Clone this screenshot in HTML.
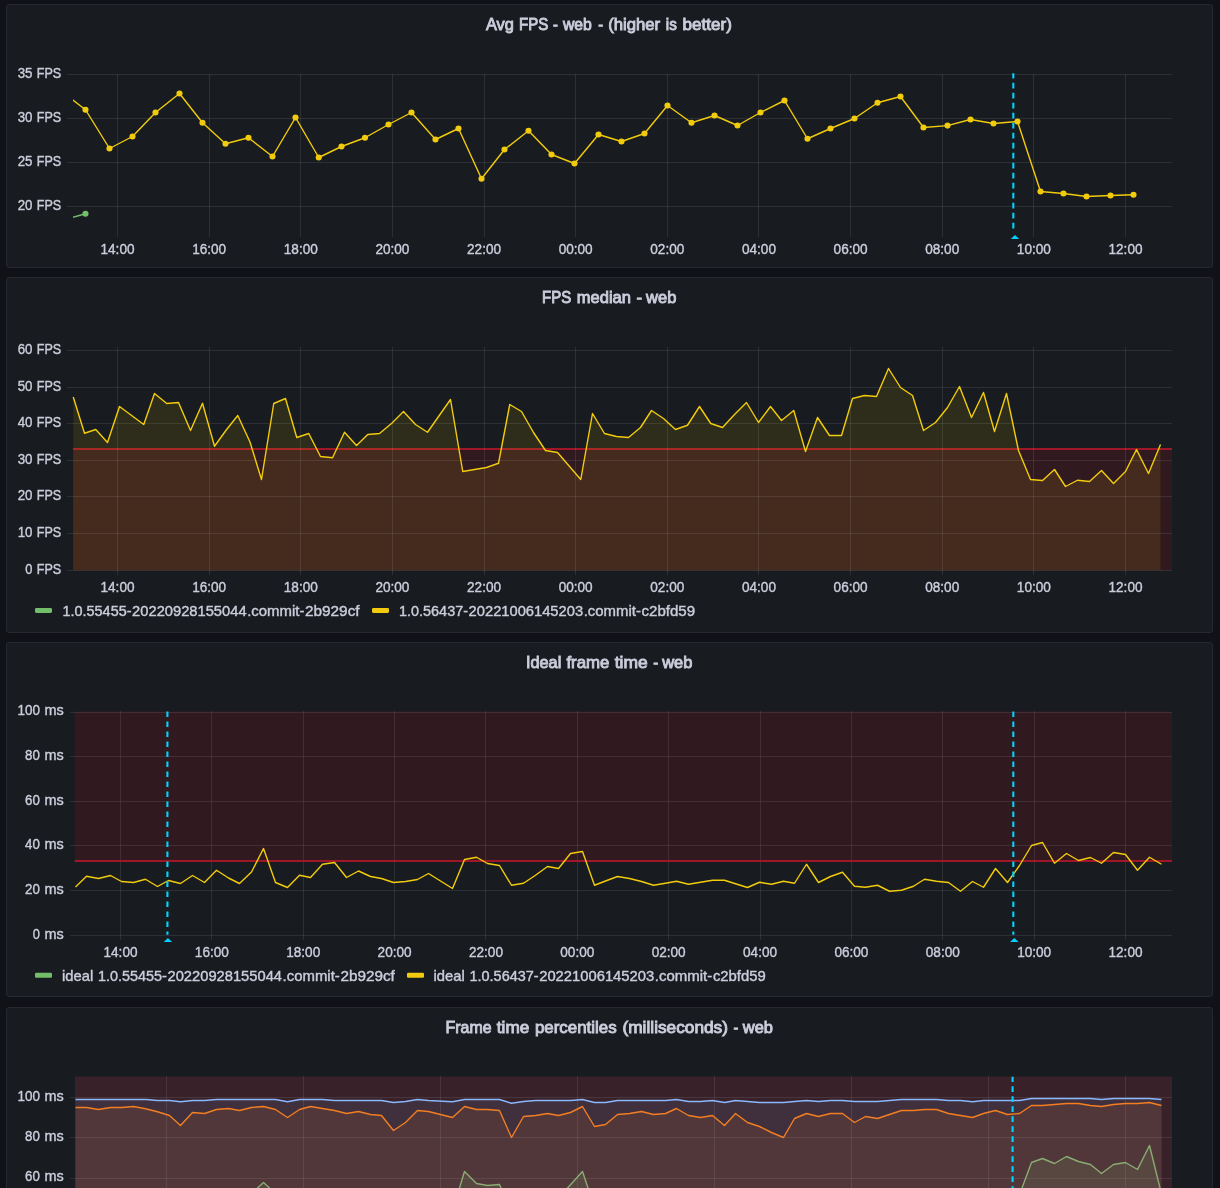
<!DOCTYPE html>
<html lang="en"><head><meta charset="utf-8"><title>Dashboard</title>
<style>
html,body{margin:0;padding:0;background:#111217;}
body{width:1220px;height:1188px;overflow:hidden;font-family:"Liberation Sans", sans-serif;}
svg{display:block;will-change:transform;transform:translateZ(0)}
text{font-family:"Liberation Sans", sans-serif;fill:#ccccdc;}
.ti{font-size:16.6px;stroke:#ccccdc;stroke-width:.9px;}
.ax{font-size:14.9px;stroke:#ccccdc;stroke-width:.4px}
.lg{font-size:14.3px;stroke:#ccccdc;stroke-width:.4px}
.g{stroke:#f0faff;stroke-opacity:.095;stroke-width:1;shape-rendering:crispEdges}
.ln{fill:none;stroke-width:1.4;stroke-linejoin:round}
</style></head><body>
<svg width="1220" height="1188" viewBox="0 0 1220 1188">
<rect width="1220" height="1188" fill="#111217"/>
<rect x="6.5" y="4.5" width="1206" height="263" rx="2.5" fill="#181b1f" stroke="#25282e"/>
<text y="29.6" class="ti"><tspan x="486" textLength="27.9" lengthAdjust="spacingAndGlyphs">Avg</tspan> <tspan x="519" textLength="29.3" lengthAdjust="spacingAndGlyphs">FPS</tspan> <tspan x="553.1" textLength="4.9" lengthAdjust="spacingAndGlyphs">-</tspan> <tspan x="562.9" textLength="29" lengthAdjust="spacingAndGlyphs">web</tspan> <tspan x="598.2" textLength="4.9" lengthAdjust="spacingAndGlyphs">-</tspan> <tspan x="608.2" textLength="52" lengthAdjust="spacingAndGlyphs">(higher</tspan> <tspan x="665.8" textLength="11" lengthAdjust="spacingAndGlyphs">is</tspan> <tspan x="682.6" textLength="49.4" lengthAdjust="spacingAndGlyphs">better)</tspan></text>
<line x1="67" x2="1172" y1="74.5" y2="74.5" class="g"/>
<line x1="67" x2="1172" y1="118.5" y2="118.5" class="g"/>
<line x1="67" x2="1172" y1="162.5" y2="162.5" class="g"/>
<line x1="67" x2="1172" y1="206.5" y2="206.5" class="g"/>
<line x1="117.5" x2="117.5" y1="74" y2="237" class="g"/>
<line x1="209.136" x2="209.136" y1="74" y2="237" class="g"/>
<line x1="300.772" x2="300.772" y1="74" y2="237" class="g"/>
<line x1="392.408" x2="392.408" y1="74" y2="237" class="g"/>
<line x1="484.044" x2="484.044" y1="74" y2="237" class="g"/>
<line x1="575.68" x2="575.68" y1="74" y2="237" class="g"/>
<line x1="667.316" x2="667.316" y1="74" y2="237" class="g"/>
<line x1="758.952" x2="758.952" y1="74" y2="237" class="g"/>
<line x1="850.588" x2="850.588" y1="74" y2="237" class="g"/>
<line x1="942.224" x2="942.224" y1="74" y2="237" class="g"/>
<line x1="1033.86" x2="1033.86" y1="74" y2="237" class="g"/>
<line x1="1125.5" x2="1125.5" y1="74" y2="237" class="g"/>
<text y="77.8" class="ax"><tspan x="17.7" textLength="14.8" lengthAdjust="spacingAndGlyphs">35</tspan> <tspan x="36.7" textLength="24.5" lengthAdjust="spacingAndGlyphs">FPS</tspan></text>
<text y="121.8" class="ax"><tspan x="17.7" textLength="14.8" lengthAdjust="spacingAndGlyphs">30</tspan> <tspan x="36.7" textLength="24.5" lengthAdjust="spacingAndGlyphs">FPS</tspan></text>
<text y="165.8" class="ax"><tspan x="17.7" textLength="14.8" lengthAdjust="spacingAndGlyphs">25</tspan> <tspan x="36.7" textLength="24.5" lengthAdjust="spacingAndGlyphs">FPS</tspan></text>
<text y="209.8" class="ax"><tspan x="17.7" textLength="14.8" lengthAdjust="spacingAndGlyphs">20</tspan> <tspan x="36.7" textLength="24.5" lengthAdjust="spacingAndGlyphs">FPS</tspan></text>
<text x="100.5" y="254" class="ax" textLength="34" lengthAdjust="spacingAndGlyphs">14:00</text>
<text x="192.136" y="254" class="ax" textLength="34" lengthAdjust="spacingAndGlyphs">16:00</text>
<text x="283.772" y="254" class="ax" textLength="34" lengthAdjust="spacingAndGlyphs">18:00</text>
<text x="375.408" y="254" class="ax" textLength="34" lengthAdjust="spacingAndGlyphs">20:00</text>
<text x="467.044" y="254" class="ax" textLength="34" lengthAdjust="spacingAndGlyphs">22:00</text>
<text x="558.68" y="254" class="ax" textLength="34" lengthAdjust="spacingAndGlyphs">00:00</text>
<text x="650.316" y="254" class="ax" textLength="34" lengthAdjust="spacingAndGlyphs">02:00</text>
<text x="741.952" y="254" class="ax" textLength="34" lengthAdjust="spacingAndGlyphs">04:00</text>
<text x="833.588" y="254" class="ax" textLength="34" lengthAdjust="spacingAndGlyphs">06:00</text>
<text x="925.224" y="254" class="ax" textLength="34" lengthAdjust="spacingAndGlyphs">08:00</text>
<text x="1016.86" y="254" class="ax" textLength="34" lengthAdjust="spacingAndGlyphs">10:00</text>
<text x="1108.5" y="254" class="ax" textLength="34" lengthAdjust="spacingAndGlyphs">12:00</text>
<clipPath id="c1"><rect x="73" y="70" width="1098" height="166"/></clipPath>
<g clip-path="url(#c1)">
<polyline class="ln" stroke="#73BF69" points="62.2,220.4 85.5,213.75"/>
<circle cx="85.5" cy="213.75" r="3.05" fill="#73BF69"/>
<polyline class="ln" stroke="#F2CC0C" points="62.2,92 85.5,109.75 109.5,148.5 132.5,136.5 155.5,112.5 179.5,93.5 202.5,122.75 225.5,143.75 248.5,137.75 272.5,156.5 295.5,117.5 318.75,157.5 341.5,146.5 365,137.75 388.5,124.5 411.5,112.5 435.5,139.5 458.5,128.5 481.5,178.75 504.5,149.5 528.5,130.75 551.5,154.5 574.5,163.5 598.5,134.5 621.5,141.5 644.5,133.5 667.5,105.5 691.5,122.75 714.5,115.5 737.5,125.5 760.5,112.5 784.5,100.5 807.5,138.75 830.5,128.5 854.5,118.5 877.5,102.75 900.5,96.5 923.5,127.5 947.5,125.6 970.5,119.5 993.5,123.5 1017.5,121.5 1040.5,191.5 1063.5,193.5 1086.5,196.5 1110.5,195.5 1133.5,194.75"/>
<circle cx="85.5" cy="109.75" r="3.05" fill="#F2CC0C"/>
<circle cx="109.5" cy="148.5" r="3.05" fill="#F2CC0C"/>
<circle cx="132.5" cy="136.5" r="3.05" fill="#F2CC0C"/>
<circle cx="155.5" cy="112.5" r="3.05" fill="#F2CC0C"/>
<circle cx="179.5" cy="93.5" r="3.05" fill="#F2CC0C"/>
<circle cx="202.5" cy="122.75" r="3.05" fill="#F2CC0C"/>
<circle cx="225.5" cy="143.75" r="3.05" fill="#F2CC0C"/>
<circle cx="248.5" cy="137.75" r="3.05" fill="#F2CC0C"/>
<circle cx="272.5" cy="156.5" r="3.05" fill="#F2CC0C"/>
<circle cx="295.5" cy="117.5" r="3.05" fill="#F2CC0C"/>
<circle cx="318.75" cy="157.5" r="3.05" fill="#F2CC0C"/>
<circle cx="341.5" cy="146.5" r="3.05" fill="#F2CC0C"/>
<circle cx="365" cy="137.75" r="3.05" fill="#F2CC0C"/>
<circle cx="388.5" cy="124.5" r="3.05" fill="#F2CC0C"/>
<circle cx="411.5" cy="112.5" r="3.05" fill="#F2CC0C"/>
<circle cx="435.5" cy="139.5" r="3.05" fill="#F2CC0C"/>
<circle cx="458.5" cy="128.5" r="3.05" fill="#F2CC0C"/>
<circle cx="481.5" cy="178.75" r="3.05" fill="#F2CC0C"/>
<circle cx="504.5" cy="149.5" r="3.05" fill="#F2CC0C"/>
<circle cx="528.5" cy="130.75" r="3.05" fill="#F2CC0C"/>
<circle cx="551.5" cy="154.5" r="3.05" fill="#F2CC0C"/>
<circle cx="574.5" cy="163.5" r="3.05" fill="#F2CC0C"/>
<circle cx="598.5" cy="134.5" r="3.05" fill="#F2CC0C"/>
<circle cx="621.5" cy="141.5" r="3.05" fill="#F2CC0C"/>
<circle cx="644.5" cy="133.5" r="3.05" fill="#F2CC0C"/>
<circle cx="667.5" cy="105.5" r="3.05" fill="#F2CC0C"/>
<circle cx="691.5" cy="122.75" r="3.05" fill="#F2CC0C"/>
<circle cx="714.5" cy="115.5" r="3.05" fill="#F2CC0C"/>
<circle cx="737.5" cy="125.5" r="3.05" fill="#F2CC0C"/>
<circle cx="760.5" cy="112.5" r="3.05" fill="#F2CC0C"/>
<circle cx="784.5" cy="100.5" r="3.05" fill="#F2CC0C"/>
<circle cx="807.5" cy="138.75" r="3.05" fill="#F2CC0C"/>
<circle cx="830.5" cy="128.5" r="3.05" fill="#F2CC0C"/>
<circle cx="854.5" cy="118.5" r="3.05" fill="#F2CC0C"/>
<circle cx="877.5" cy="102.75" r="3.05" fill="#F2CC0C"/>
<circle cx="900.5" cy="96.5" r="3.05" fill="#F2CC0C"/>
<circle cx="923.5" cy="127.5" r="3.05" fill="#F2CC0C"/>
<circle cx="947.5" cy="125.6" r="3.05" fill="#F2CC0C"/>
<circle cx="970.5" cy="119.5" r="3.05" fill="#F2CC0C"/>
<circle cx="993.5" cy="123.5" r="3.05" fill="#F2CC0C"/>
<circle cx="1017.5" cy="121.5" r="3.05" fill="#F2CC0C"/>
<circle cx="1040.5" cy="191.5" r="3.05" fill="#F2CC0C"/>
<circle cx="1063.5" cy="193.5" r="3.05" fill="#F2CC0C"/>
<circle cx="1086.5" cy="196.5" r="3.05" fill="#F2CC0C"/>
<circle cx="1110.5" cy="195.5" r="3.05" fill="#F2CC0C"/>
<circle cx="1133.5" cy="194.75" r="3.05" fill="#F2CC0C"/>
</g>
<line x1="1013.3" x2="1013.3" y1="73.3" y2="232.5" stroke="#00d3ff" stroke-width="2.1" stroke-dasharray="5.6 4.4" stroke-dashoffset="0.5"/>
<path d="M1010.8 239.1L1015 234.9L1019.2 239.1Z" fill="#00d3ff"/>
<rect x="6.5" y="277.5" width="1206" height="355" rx="2.5" fill="#181b1f" stroke="#25282e"/>
<text y="303" class="ti"><tspan x="542.1" textLength="29.2" lengthAdjust="spacingAndGlyphs">FPS</tspan> <tspan x="576.8" textLength="54.1" lengthAdjust="spacingAndGlyphs">median</tspan> <tspan x="636.6" textLength="5.6" lengthAdjust="spacingAndGlyphs">-</tspan> <tspan x="646.1" textLength="30.3" lengthAdjust="spacingAndGlyphs">web</tspan></text>
<rect x="73" y="449" width="1099" height="121.3" fill="#C4162A" fill-opacity=".15"/>
<line x1="73" x2="1172" y1="449" y2="449" stroke="#C4162A" stroke-width="2" stroke-opacity=".77"/>
<polygon points="73.25,397 84.5,433.25 95.75,429.5 107.5,442.5 119.5,406.5 143.75,424.5 154.5,393.5 166.75,403.5 178.5,402.5 190.5,430.5 202.5,403.25 214.5,446.25 226.25,430 237.75,415.5 250,442 261.5,479.5 273.75,403.5 285.5,398.5 296.75,437.5 308.75,433.5 320.5,456.5 332.5,457.75 344.5,432.25 356.5,445.5 367.75,434.5 379.5,433.5 391.75,423.25 403.5,411.5 415.5,424.5 427.5,432.25 450.5,399.5 462.75,471.5 486.5,467.5 498.5,463.25 509.75,404.5 521.5,411.5 533.5,432.5 545.5,450.5 557.5,452.5 580.75,479.5 592.5,413.5 604.5,433.5 616.5,436.5 628.5,437.5 640.5,427.5 651.5,410.5 663.5,418.5 675.5,429.5 687.5,425.25 699.5,406.5 710.75,423.5 722.5,427.5 734.5,414.5 746.5,402.5 758.5,422.5 770.5,406.5 781.5,420.5 793.75,410.5 805.5,451.5 817.5,417.5 829.5,435.5 841.5,435.5 852.5,398.5 864.5,395.5 876.5,396.5 888.5,368.5 900.5,387.5 912.5,395.5 923.5,430.5 935.5,422.5 947.5,407.5 959.5,386.5 971.5,417.5 983.5,392.5 994.5,431.5 1006.5,393.5 1018.5,450.5 1030.5,479.5 1042.5,480.5 1054.5,469.5 1065.5,486.5 1077.5,480.25 1089.5,481.5 1101.5,470.5 1113.5,483.5 1125.5,471.5 1136.5,449.5 1148.5,473.5 1160.5,444.5 1160.5,570.3 73.25,570.3" fill="#F2CC0C" fill-opacity=".1"/>
<line x1="67" x2="1172" y1="350.4" y2="350.4" class="g"/>
<line x1="67" x2="1172" y1="387.4" y2="387.4" class="g"/>
<line x1="67" x2="1172" y1="423.4" y2="423.4" class="g"/>
<line x1="67" x2="1172" y1="460.4" y2="460.4" class="g"/>
<line x1="67" x2="1172" y1="496.3" y2="496.3" class="g"/>
<line x1="67" x2="1172" y1="533.4" y2="533.4" class="g"/>
<line x1="67" x2="1172" y1="570.3" y2="570.3" class="g"/>
<line x1="117.5" x2="117.5" y1="346.7" y2="574.8" class="g"/>
<line x1="209.136" x2="209.136" y1="346.7" y2="574.8" class="g"/>
<line x1="300.772" x2="300.772" y1="346.7" y2="574.8" class="g"/>
<line x1="392.408" x2="392.408" y1="346.7" y2="574.8" class="g"/>
<line x1="484.044" x2="484.044" y1="346.7" y2="574.8" class="g"/>
<line x1="575.68" x2="575.68" y1="346.7" y2="574.8" class="g"/>
<line x1="667.316" x2="667.316" y1="346.7" y2="574.8" class="g"/>
<line x1="758.952" x2="758.952" y1="346.7" y2="574.8" class="g"/>
<line x1="850.588" x2="850.588" y1="346.7" y2="574.8" class="g"/>
<line x1="942.224" x2="942.224" y1="346.7" y2="574.8" class="g"/>
<line x1="1033.86" x2="1033.86" y1="346.7" y2="574.8" class="g"/>
<line x1="1125.5" x2="1125.5" y1="346.7" y2="574.8" class="g"/>
<polyline class="ln" stroke="#F2CC0C" points="73.25,397 84.5,433.25 95.75,429.5 107.5,442.5 119.5,406.5 143.75,424.5 154.5,393.5 166.75,403.5 178.5,402.5 190.5,430.5 202.5,403.25 214.5,446.25 226.25,430 237.75,415.5 250,442 261.5,479.5 273.75,403.5 285.5,398.5 296.75,437.5 308.75,433.5 320.5,456.5 332.5,457.75 344.5,432.25 356.5,445.5 367.75,434.5 379.5,433.5 391.75,423.25 403.5,411.5 415.5,424.5 427.5,432.25 450.5,399.5 462.75,471.5 486.5,467.5 498.5,463.25 509.75,404.5 521.5,411.5 533.5,432.5 545.5,450.5 557.5,452.5 580.75,479.5 592.5,413.5 604.5,433.5 616.5,436.5 628.5,437.5 640.5,427.5 651.5,410.5 663.5,418.5 675.5,429.5 687.5,425.25 699.5,406.5 710.75,423.5 722.5,427.5 734.5,414.5 746.5,402.5 758.5,422.5 770.5,406.5 781.5,420.5 793.75,410.5 805.5,451.5 817.5,417.5 829.5,435.5 841.5,435.5 852.5,398.5 864.5,395.5 876.5,396.5 888.5,368.5 900.5,387.5 912.5,395.5 923.5,430.5 935.5,422.5 947.5,407.5 959.5,386.5 971.5,417.5 983.5,392.5 994.5,431.5 1006.5,393.5 1018.5,450.5 1030.5,479.5 1042.5,480.5 1054.5,469.5 1065.5,486.5 1077.5,480.25 1089.5,481.5 1101.5,470.5 1113.5,483.5 1125.5,471.5 1136.5,449.5 1148.5,473.5 1160.5,444.5"/>
<text y="353.7" class="ax"><tspan x="17.7" textLength="14.8" lengthAdjust="spacingAndGlyphs">60</tspan> <tspan x="36.7" textLength="24.5" lengthAdjust="spacingAndGlyphs">FPS</tspan></text>
<text y="390.7" class="ax"><tspan x="17.7" textLength="14.8" lengthAdjust="spacingAndGlyphs">50</tspan> <tspan x="36.7" textLength="24.5" lengthAdjust="spacingAndGlyphs">FPS</tspan></text>
<text y="426.7" class="ax"><tspan x="17.7" textLength="14.8" lengthAdjust="spacingAndGlyphs">40</tspan> <tspan x="36.7" textLength="24.5" lengthAdjust="spacingAndGlyphs">FPS</tspan></text>
<text y="463.7" class="ax"><tspan x="17.7" textLength="14.8" lengthAdjust="spacingAndGlyphs">30</tspan> <tspan x="36.7" textLength="24.5" lengthAdjust="spacingAndGlyphs">FPS</tspan></text>
<text y="499.6" class="ax"><tspan x="17.7" textLength="14.8" lengthAdjust="spacingAndGlyphs">20</tspan> <tspan x="36.7" textLength="24.5" lengthAdjust="spacingAndGlyphs">FPS</tspan></text>
<text y="536.7" class="ax"><tspan x="17.7" textLength="14.8" lengthAdjust="spacingAndGlyphs">10</tspan> <tspan x="36.7" textLength="24.5" lengthAdjust="spacingAndGlyphs">FPS</tspan></text>
<text y="573.6" class="ax"><tspan x="25.35" textLength="7.15" lengthAdjust="spacingAndGlyphs">0</tspan> <tspan x="36.7" textLength="24.5" lengthAdjust="spacingAndGlyphs">FPS</tspan></text>
<text x="100.5" y="591.6" class="ax" textLength="34" lengthAdjust="spacingAndGlyphs">14:00</text>
<text x="192.136" y="591.6" class="ax" textLength="34" lengthAdjust="spacingAndGlyphs">16:00</text>
<text x="283.772" y="591.6" class="ax" textLength="34" lengthAdjust="spacingAndGlyphs">18:00</text>
<text x="375.408" y="591.6" class="ax" textLength="34" lengthAdjust="spacingAndGlyphs">20:00</text>
<text x="467.044" y="591.6" class="ax" textLength="34" lengthAdjust="spacingAndGlyphs">22:00</text>
<text x="558.68" y="591.6" class="ax" textLength="34" lengthAdjust="spacingAndGlyphs">00:00</text>
<text x="650.316" y="591.6" class="ax" textLength="34" lengthAdjust="spacingAndGlyphs">02:00</text>
<text x="741.952" y="591.6" class="ax" textLength="34" lengthAdjust="spacingAndGlyphs">04:00</text>
<text x="833.588" y="591.6" class="ax" textLength="34" lengthAdjust="spacingAndGlyphs">06:00</text>
<text x="925.224" y="591.6" class="ax" textLength="34" lengthAdjust="spacingAndGlyphs">08:00</text>
<text x="1016.86" y="591.6" class="ax" textLength="34" lengthAdjust="spacingAndGlyphs">10:00</text>
<text x="1108.5" y="591.6" class="ax" textLength="34" lengthAdjust="spacingAndGlyphs">12:00</text>
<rect x="35" y="607.9" width="17" height="5" rx="1.3" fill="#73BF69"/>
<text y="616.2" class="lg"><tspan x="62.5" textLength="69" lengthAdjust="spacingAndGlyphs">1.0.55455-</tspan><tspan x="132.1" textLength="114.5" lengthAdjust="spacingAndGlyphs">20220928155044</tspan><tspan x="247.2" textLength="57.2" lengthAdjust="spacingAndGlyphs">.commit-</tspan><tspan x="305" textLength="54.6" lengthAdjust="spacingAndGlyphs">2b929cf</tspan></text>
<rect x="372" y="607.9" width="17" height="5" rx="1.3" fill="#F2CC0C"/>
<text y="616.2" class="lg"><tspan x="399" textLength="69" lengthAdjust="spacingAndGlyphs">1.0.56437-</tspan><tspan x="468.6" textLength="114.5" lengthAdjust="spacingAndGlyphs">20221006145203</tspan><tspan x="583.7" textLength="57.2" lengthAdjust="spacingAndGlyphs">.commit-</tspan><tspan x="641.5" textLength="53.6" lengthAdjust="spacingAndGlyphs">c2bfd59</tspan></text>
<rect x="6.5" y="642.5" width="1206" height="354" rx="2.5" fill="#181b1f" stroke="#25282e"/>
<text y="668" class="ti"><tspan x="525.9" textLength="35.4" lengthAdjust="spacingAndGlyphs">Ideal</tspan> <tspan x="566.4" textLength="43.1" lengthAdjust="spacingAndGlyphs">frame</tspan> <tspan x="614.7" textLength="33" lengthAdjust="spacingAndGlyphs">time</tspan> <tspan x="653.3" textLength="5" lengthAdjust="spacingAndGlyphs">-</tspan> <tspan x="662.2" textLength="30.3" lengthAdjust="spacingAndGlyphs">web</tspan></text>
<rect x="74.75" y="711.4" width="1097.25" height="149.6" fill="#C4162A" fill-opacity=".15"/>
<line x1="70.0" x2="1172" y1="712.1" y2="712.1" class="g"/>
<line x1="70.0" x2="1172" y1="756.6" y2="756.6" class="g"/>
<line x1="70.0" x2="1172" y1="801.3" y2="801.3" class="g"/>
<line x1="70.0" x2="1172" y1="845.3" y2="845.3" class="g"/>
<line x1="70.0" x2="1172" y1="890.45" y2="890.45" class="g"/>
<line x1="70.0" x2="1172" y1="935.2" y2="935.2" class="g"/>
<line x1="120.5" x2="120.5" y1="711.4" y2="939.7" class="g"/>
<line x1="211.864" x2="211.864" y1="711.4" y2="939.7" class="g"/>
<line x1="303.228" x2="303.228" y1="711.4" y2="939.7" class="g"/>
<line x1="394.592" x2="394.592" y1="711.4" y2="939.7" class="g"/>
<line x1="485.956" x2="485.956" y1="711.4" y2="939.7" class="g"/>
<line x1="577.32" x2="577.32" y1="711.4" y2="939.7" class="g"/>
<line x1="668.684" x2="668.684" y1="711.4" y2="939.7" class="g"/>
<line x1="760.048" x2="760.048" y1="711.4" y2="939.7" class="g"/>
<line x1="851.412" x2="851.412" y1="711.4" y2="939.7" class="g"/>
<line x1="942.776" x2="942.776" y1="711.4" y2="939.7" class="g"/>
<line x1="1034.14" x2="1034.14" y1="711.4" y2="939.7" class="g"/>
<line x1="1125.5" x2="1125.5" y1="711.4" y2="939.7" class="g"/>
<line x1="74.75" x2="1172" y1="861" y2="861" stroke="#C4162A" stroke-width="2" stroke-opacity=".77"/>
<polyline class="ln" stroke="#F2CC0C" points="75.5,887 86.5,876.25 98.5,878.5 110.5,875.5 121.5,881.5 133.5,882.5 145.5,879.25 157.5,886.5 168.5,880.5 180.5,883.5 192.5,875.5 204.5,882.5 216.5,870.25 228.5,878 239.5,883.5 251.5,872 263.5,848.5 275.5,882.5 287.5,887.5 299.5,875.25 310.5,877.5 322.5,864.25 334.5,862.5 346.5,877.5 358.5,871 370.5,876.5 381.5,878.5 393.5,882.5 405.5,881.5 417.5,879.5 428.5,873.5 452.5,888.5 464.5,859.5 476.5,857.25 487.5,863.5 499.5,865.5 511.5,885.25 523.5,883.25 535.5,875.25 547.5,866.5 558.5,868.5 570.5,853.5 582.5,851.5 594.5,885.25 605.5,881 617.5,876.5 629.5,878.5 641.5,881.5 653.5,885.25 665.5,883.25 676.5,881.25 688.5,884.25 700.5,882.25 712.5,880.25 724.5,880.25 735.5,883.75 747.5,887.5 759.5,882.25 771.5,884.25 783.5,881.25 794.5,883.25 806.5,864.25 818.5,882.5 830.5,876.5 842.5,872.25 854.5,886.25 865.5,887.25 877.5,885.25 889.5,891.25 901.5,890.25 913.5,886.25 924.5,879.25 936.5,881.25 948.5,882.5 960.5,891.25 972.5,881.5 983.5,887.25 995.5,868.5 1007.5,882.5 1019.5,865.5 1031.5,845.5 1042.5,842.5 1054.5,863.25 1066.5,853.5 1078.5,860.5 1090.5,857.5 1101.5,863.25 1113.5,852.5 1125.5,854.5 1137.5,870.25 1149.5,857.25 1161.5,864.25"/>
<line x1="167.4" x2="167.4" y1="711.4" y2="934.7" stroke="#00d3ff" stroke-width="2.1" stroke-dasharray="5.6 4.4" stroke-dashoffset="0"/>
<path d="M163.7 942.1L167.9 937.9L172.1 942.1Z" fill="#00d3ff"/>
<line x1="1013.3" x2="1013.3" y1="711.4" y2="934.7" stroke="#00d3ff" stroke-width="2.1" stroke-dasharray="5.6 4.4" stroke-dashoffset="0"/>
<path d="M1010.1 942.1L1014.3 937.9L1018.5 942.1Z" fill="#00d3ff"/>
<text y="715.4" class="ax"><tspan x="17.45" textLength="22.45" lengthAdjust="spacingAndGlyphs">100</tspan> <tspan x="44.4" textLength="19.3" lengthAdjust="spacingAndGlyphs">ms</tspan></text>
<text y="759.9" class="ax"><tspan x="25.1" textLength="14.8" lengthAdjust="spacingAndGlyphs">80</tspan> <tspan x="44.4" textLength="19.3" lengthAdjust="spacingAndGlyphs">ms</tspan></text>
<text y="804.6" class="ax"><tspan x="25.1" textLength="14.8" lengthAdjust="spacingAndGlyphs">60</tspan> <tspan x="44.4" textLength="19.3" lengthAdjust="spacingAndGlyphs">ms</tspan></text>
<text y="848.6" class="ax"><tspan x="25.1" textLength="14.8" lengthAdjust="spacingAndGlyphs">40</tspan> <tspan x="44.4" textLength="19.3" lengthAdjust="spacingAndGlyphs">ms</tspan></text>
<text y="893.75" class="ax"><tspan x="25.1" textLength="14.8" lengthAdjust="spacingAndGlyphs">20</tspan> <tspan x="44.4" textLength="19.3" lengthAdjust="spacingAndGlyphs">ms</tspan></text>
<text y="938.5" class="ax"><tspan x="32.75" textLength="7.15" lengthAdjust="spacingAndGlyphs">0</tspan> <tspan x="44.4" textLength="19.3" lengthAdjust="spacingAndGlyphs">ms</tspan></text>
<text x="103.5" y="956.6" class="ax" textLength="34" lengthAdjust="spacingAndGlyphs">14:00</text>
<text x="194.864" y="956.6" class="ax" textLength="34" lengthAdjust="spacingAndGlyphs">16:00</text>
<text x="286.228" y="956.6" class="ax" textLength="34" lengthAdjust="spacingAndGlyphs">18:00</text>
<text x="377.592" y="956.6" class="ax" textLength="34" lengthAdjust="spacingAndGlyphs">20:00</text>
<text x="468.956" y="956.6" class="ax" textLength="34" lengthAdjust="spacingAndGlyphs">22:00</text>
<text x="560.32" y="956.6" class="ax" textLength="34" lengthAdjust="spacingAndGlyphs">00:00</text>
<text x="651.684" y="956.6" class="ax" textLength="34" lengthAdjust="spacingAndGlyphs">02:00</text>
<text x="743.048" y="956.6" class="ax" textLength="34" lengthAdjust="spacingAndGlyphs">04:00</text>
<text x="834.412" y="956.6" class="ax" textLength="34" lengthAdjust="spacingAndGlyphs">06:00</text>
<text x="925.776" y="956.6" class="ax" textLength="34" lengthAdjust="spacingAndGlyphs">08:00</text>
<text x="1017.14" y="956.6" class="ax" textLength="34" lengthAdjust="spacingAndGlyphs">10:00</text>
<text x="1108.5" y="956.6" class="ax" textLength="34" lengthAdjust="spacingAndGlyphs">12:00</text>
<rect x="35" y="972.7" width="17" height="5" rx="1.3" fill="#73BF69"/>
<text y="981" class="lg"><tspan x="62" textLength="35.3" lengthAdjust="spacingAndGlyphs">ideal </tspan><tspan x="97.9" textLength="69" lengthAdjust="spacingAndGlyphs">1.0.55455-</tspan><tspan x="167.5" textLength="114.5" lengthAdjust="spacingAndGlyphs">20220928155044</tspan><tspan x="282.6" textLength="57.2" lengthAdjust="spacingAndGlyphs">.commit-</tspan><tspan x="340.4" textLength="54.4" lengthAdjust="spacingAndGlyphs">2b929cf</tspan></text>
<rect x="407" y="972.7" width="17" height="5" rx="1.3" fill="#F2CC0C"/>
<text y="981" class="lg"><tspan x="433.6" textLength="35.3" lengthAdjust="spacingAndGlyphs">ideal </tspan><tspan x="469.5" textLength="69.1" lengthAdjust="spacingAndGlyphs">1.0.56437-</tspan><tspan x="539.2" textLength="115" lengthAdjust="spacingAndGlyphs">20221006145203</tspan><tspan x="654.8" textLength="57.5" lengthAdjust="spacingAndGlyphs">.commit-</tspan><tspan x="712.9" textLength="52.9" lengthAdjust="spacingAndGlyphs">c2bfd59</tspan></text>
<rect x="6.5" y="1007.5" width="1206" height="192" rx="2.5" fill="#181b1f" stroke="#25282e"/>
<text y="1033" class="ti"><tspan x="445.6" textLength="46" lengthAdjust="spacingAndGlyphs">Frame</tspan> <tspan x="496.8" textLength="32.5" lengthAdjust="spacingAndGlyphs">time</tspan> <tspan x="534.9" textLength="81.8" lengthAdjust="spacingAndGlyphs">percentiles</tspan> <tspan x="622.5" textLength="105.5" lengthAdjust="spacingAndGlyphs">(milliseconds)</tspan> <tspan x="733.6" textLength="4.8" lengthAdjust="spacingAndGlyphs">-</tspan> <tspan x="742.8" textLength="30.2" lengthAdjust="spacingAndGlyphs">web</tspan></text>
<clipPath id="c4"><rect x="75" y="1076.3" width="1097" height="120"/></clipPath>
<g clip-path="url(#c4)">
<rect x="75" y="1076.3" width="1097" height="120" fill="#F2495C" fill-opacity=".15"/>
</g>
<line x1="70.3" x2="1172" y1="1097.5" y2="1097.5" class="g"/>
<line x1="70.3" x2="1172" y1="1137.5" y2="1137.5" class="g"/>
<line x1="70.3" x2="1172" y1="1178.4" y2="1178.4" class="g"/>
<line x1="166.5" x2="166.5" y1="1076.3" y2="1188" class="g"/>
<line x1="303.5" x2="303.5" y1="1076.3" y2="1188" class="g"/>
<line x1="440.5" x2="440.5" y1="1076.3" y2="1188" class="g"/>
<line x1="577.5" x2="577.5" y1="1076.3" y2="1188" class="g"/>
<line x1="714.5" x2="714.5" y1="1076.3" y2="1188" class="g"/>
<line x1="851.5" x2="851.5" y1="1076.3" y2="1188" class="g"/>
<line x1="988.5" x2="988.5" y1="1076.3" y2="1188" class="g"/>
<line x1="1125.5" x2="1125.5" y1="1076.3" y2="1188" class="g"/>
<g clip-path="url(#c4)">
<polygon points="75.5,1215 239.5,1215 251.5,1193.5 263.5,1182.5 275.5,1193.5 287.5,1215 440.5,1215 452.5,1211 464.5,1171.5 476.5,1183.5 487.5,1185.5 499.5,1184.5 511.5,1212.5 523.5,1215 546.5,1215 558.5,1198 570.5,1184.7 582.5,1171.5 594.5,1207.5 605.5,1215 1007.5,1215 1019.5,1194.7 1031.5,1162.5 1042.5,1158.5 1054.5,1163.5 1066.5,1156.5 1078.5,1161.5 1090.5,1164.5 1101.5,1173.5 1113.5,1164.5 1125.5,1162.5 1137.5,1169.5 1149.5,1145.5 1161.5,1194 1161.5,1240 75.5,1240" fill="#7EB26D" fill-opacity=".13"/>
<polyline class="ln" stroke="#7EB26D" points="75.5,1215 239.5,1215 251.5,1193.5 263.5,1182.5 275.5,1193.5 287.5,1215 440.5,1215 452.5,1211 464.5,1171.5 476.5,1183.5 487.5,1185.5 499.5,1184.5 511.5,1212.5 523.5,1215 546.5,1215 558.5,1198 570.5,1184.7 582.5,1171.5 594.5,1207.5 605.5,1215 1007.5,1215 1019.5,1194.7 1031.5,1162.5 1042.5,1158.5 1054.5,1163.5 1066.5,1156.5 1078.5,1161.5 1090.5,1164.5 1101.5,1173.5 1113.5,1164.5 1125.5,1162.5 1137.5,1169.5 1149.5,1145.5 1161.5,1194"/>
<polygon points="75.5,1107.5 86.5,1107.5 98.5,1109.5 110.5,1107.5 121.5,1107.5 133.5,1106.5 145.5,1108.75 157.5,1111.75 169.5,1115.5 180.5,1125.5 192.5,1112.5 204.5,1113.5 216.5,1109.5 228.5,1108.5 239.5,1110.5 251.5,1107.5 263.5,1106.5 275.5,1109.5 287.5,1117.5 299.5,1109.5 310.5,1106.5 322.5,1108.5 334.5,1110.5 346.5,1113.5 358.5,1111.5 370.5,1114.5 381.5,1115.5 393.5,1130.5 405.5,1122.5 417.5,1110.5 428.5,1111.5 440.5,1114.5 452.5,1117.5 464.5,1106.5 476.5,1109.5 487.5,1109.5 499.5,1110.5 511.5,1137.5 523.5,1116.5 535.5,1115.5 547.5,1113.5 558.5,1115.5 570.5,1112.5 582.5,1106.5 594.5,1126.5 605.5,1124.5 617.5,1114.5 629.5,1113.5 641.5,1111.5 653.5,1114.5 665.5,1113.5 676.5,1108.5 688.5,1115.5 700.5,1117.5 712.5,1115.5 724.5,1125.5 735.5,1113.5 747.5,1122.5 759.5,1126.5 771.5,1132.5 783.5,1137.5 794.5,1118.5 806.5,1113.5 818.5,1116.5 830.5,1113.5 842.5,1113.5 854.5,1122.5 865.5,1116.5 877.5,1118.5 901.5,1110.5 913.5,1110.5 924.5,1109.5 936.5,1109.5 948.5,1113.5 960.5,1115.5 972.5,1117.5 983.5,1113.5 995.5,1110.5 1007.5,1114.5 1019.5,1113.5 1031.5,1105.5 1042.5,1105.5 1054.5,1104.5 1066.5,1103.5 1078.5,1103.5 1090.5,1105.5 1101.5,1106.5 1113.5,1104.5 1125.5,1103.5 1137.5,1103.5 1149.5,1102.5 1161.5,1105.5 1161.5,1200 75.5,1200" fill="#FF780A" fill-opacity=".1"/>
<polyline class="ln" stroke="#FF780A" points="75.5,1107.5 86.5,1107.5 98.5,1109.5 110.5,1107.5 121.5,1107.5 133.5,1106.5 145.5,1108.75 157.5,1111.75 169.5,1115.5 180.5,1125.5 192.5,1112.5 204.5,1113.5 216.5,1109.5 228.5,1108.5 239.5,1110.5 251.5,1107.5 263.5,1106.5 275.5,1109.5 287.5,1117.5 299.5,1109.5 310.5,1106.5 322.5,1108.5 334.5,1110.5 346.5,1113.5 358.5,1111.5 370.5,1114.5 381.5,1115.5 393.5,1130.5 405.5,1122.5 417.5,1110.5 428.5,1111.5 440.5,1114.5 452.5,1117.5 464.5,1106.5 476.5,1109.5 487.5,1109.5 499.5,1110.5 511.5,1137.5 523.5,1116.5 535.5,1115.5 547.5,1113.5 558.5,1115.5 570.5,1112.5 582.5,1106.5 594.5,1126.5 605.5,1124.5 617.5,1114.5 629.5,1113.5 641.5,1111.5 653.5,1114.5 665.5,1113.5 676.5,1108.5 688.5,1115.5 700.5,1117.5 712.5,1115.5 724.5,1125.5 735.5,1113.5 747.5,1122.5 759.5,1126.5 771.5,1132.5 783.5,1137.5 794.5,1118.5 806.5,1113.5 818.5,1116.5 830.5,1113.5 842.5,1113.5 854.5,1122.5 865.5,1116.5 877.5,1118.5 901.5,1110.5 913.5,1110.5 924.5,1109.5 936.5,1109.5 948.5,1113.5 960.5,1115.5 972.5,1117.5 983.5,1113.5 995.5,1110.5 1007.5,1114.5 1019.5,1113.5 1031.5,1105.5 1042.5,1105.5 1054.5,1104.5 1066.5,1103.5 1078.5,1103.5 1090.5,1105.5 1101.5,1106.5 1113.5,1104.5 1125.5,1103.5 1137.5,1103.5 1149.5,1102.5 1161.5,1105.5"/>
<polygon points="75.5,1099.5 146.25,1099.5 157.5,1100.5 169.5,1100.5 180.5,1101.75 192.5,1100.5 204.5,1100.5 216.5,1099.5 275.5,1099.5 287.5,1101.75 299.5,1099.5 322.5,1099.5 334.5,1100.5 381.5,1100.5 393.5,1102.5 405.5,1101.5 417.5,1099.5 428.5,1100.5 452.5,1101.75 464.5,1099.5 499.5,1099.5 511.5,1103.25 523.5,1101.5 535.5,1100.5 570.5,1100.5 582.5,1099.5 594.5,1102.5 605.5,1102.5 617.5,1100.5 665.5,1100.5 676.5,1099.5 688.5,1101.5 700.5,1101.5 712.5,1100.5 724.5,1102.5 735.5,1100.5 747.5,1101.5 759.5,1102.5 783.5,1102.5 794.5,1101.5 806.5,1100.5 818.5,1101.5 830.5,1100.5 842.5,1100.5 854.5,1101.5 877.5,1101.5 901.5,1099.5 936.5,1099.5 948.5,1100.5 960.5,1100.5 972.5,1101.75 983.5,1100.5 1019.5,1100.5 1031.5,1098.5 1090.5,1098.5 1101.5,1099.5 1113.5,1098.5 1149.5,1098.5 1161.5,1099.5 1161.5,1200 75.5,1200" fill="#8AB8FF" fill-opacity=".1"/>
<polyline class="ln" stroke="#8AB8FF" points="75.5,1099.5 146.25,1099.5 157.5,1100.5 169.5,1100.5 180.5,1101.75 192.5,1100.5 204.5,1100.5 216.5,1099.5 275.5,1099.5 287.5,1101.75 299.5,1099.5 322.5,1099.5 334.5,1100.5 381.5,1100.5 393.5,1102.5 405.5,1101.5 417.5,1099.5 428.5,1100.5 452.5,1101.75 464.5,1099.5 499.5,1099.5 511.5,1103.25 523.5,1101.5 535.5,1100.5 570.5,1100.5 582.5,1099.5 594.5,1102.5 605.5,1102.5 617.5,1100.5 665.5,1100.5 676.5,1099.5 688.5,1101.5 700.5,1101.5 712.5,1100.5 724.5,1102.5 735.5,1100.5 747.5,1101.5 759.5,1102.5 783.5,1102.5 794.5,1101.5 806.5,1100.5 818.5,1101.5 830.5,1100.5 842.5,1100.5 854.5,1101.5 877.5,1101.5 901.5,1099.5 936.5,1099.5 948.5,1100.5 960.5,1100.5 972.5,1101.75 983.5,1100.5 1019.5,1100.5 1031.5,1098.5 1090.5,1098.5 1101.5,1099.5 1113.5,1098.5 1149.5,1098.5 1161.5,1099.5"/>
</g>
<line x1="1012.6" x2="1012.6" y1="1076.8" y2="1188" stroke="#00d3ff" stroke-width="2.1" stroke-dasharray="5.6 4.4" stroke-dashoffset=".5"/>
<text y="1100.8" class="ax"><tspan x="17.45" textLength="22.45" lengthAdjust="spacingAndGlyphs">100</tspan> <tspan x="44.4" textLength="19.3" lengthAdjust="spacingAndGlyphs">ms</tspan></text>
<text y="1140.8" class="ax"><tspan x="25.1" textLength="14.8" lengthAdjust="spacingAndGlyphs">80</tspan> <tspan x="44.4" textLength="19.3" lengthAdjust="spacingAndGlyphs">ms</tspan></text>
<text y="1181.3" class="ax"><tspan x="25.1" textLength="14.8" lengthAdjust="spacingAndGlyphs">60</tspan> <tspan x="44.4" textLength="19.3" lengthAdjust="spacingAndGlyphs">ms</tspan></text>
</svg></body></html>
